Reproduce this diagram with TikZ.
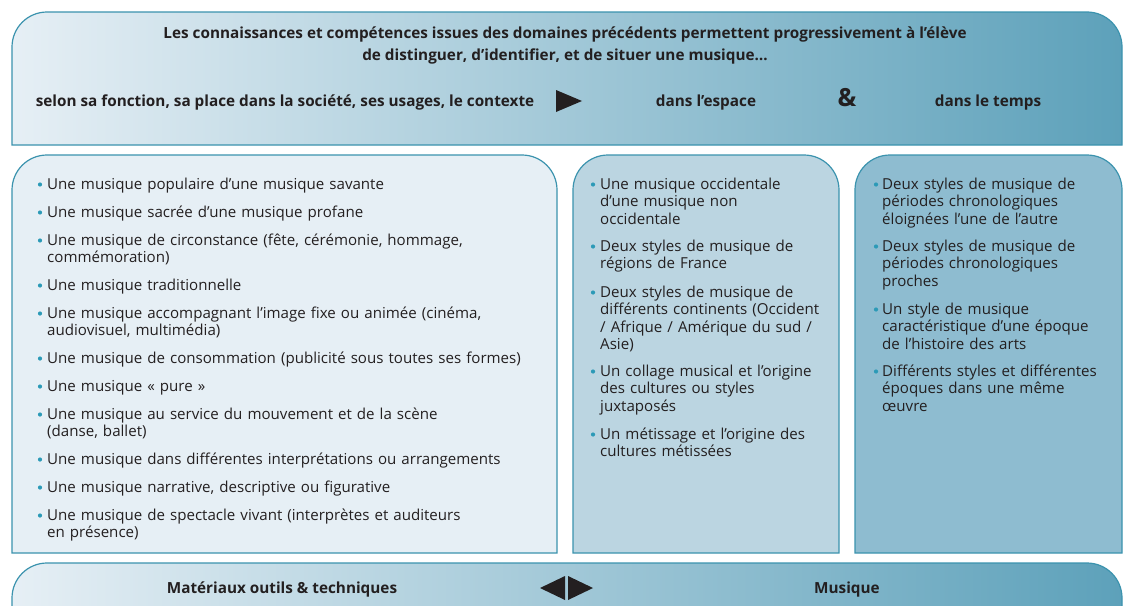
\documentclass[tikz,border=0pt]{standalone}
\usepackage{fontspec}
\setmainfont{Open Sans}
\definecolor{bordc}{HTML}{3B93AE}
\definecolor{leftfill}{HTML}{E6EFF5}
\definecolor{midfill}{HTML}{BBD5E1}
\definecolor{rightfill}{HTML}{8EBCD0}
\definecolor{bulc}{HTML}{2C9AB7}
\definecolor{txt}{HTML}{231F20}
\definecolor{gl}{HTML}{E6EFF5}
\definecolor{gm}{HTML}{AACBDA}
\definecolor{gr}{HTML}{5DA1BA}
\tikzset{
  boxline/.style={draw=bordc, line width=1.2pt},
  head/.style={text=txt, inner sep=0pt, anchor=base, font={\bfseries\fontsize{15.3}{17}\selectfont}},
  itemtext/.style={text=txt, inner sep=0pt, anchor=base west, align=left, font={\fontsize{15.1}{17.5}\selectfont}},
  lefttext/.style={itemtext, text width=505pt},
  coltext/.style={itemtext, text width=240pt},
  bul/.style={circle, fill=bulc, inner sep=0pt, minimum size=4.2pt},
  tri/.style={fill=txt, draw=none}
}
\begin{document}
\begin{tikzpicture}[x=1pt, y=-1pt]
\useasboundingbox (0,0) rectangle (1127,605);
\clip (0,0) rectangle (1127,605);
\fill[white] (0,0) rectangle (1127,605);
% top banner
\path[boxline, left color=gl, middle color=gm, right color=gr]
  (12,145) -- (12,47) arc[start angle=180, end angle=90, radius=35pt]
  -- (1087,12) arc[start angle=90, end angle=0, radius=35pt] -- (1122,145) -- cycle;
% columns
\path[boxline, fill=leftfill]
  (12,553) -- (12,190) arc[start angle=180, end angle=90, radius=35pt]
  -- (522,155) arc[start angle=90, end angle=0, radius=35pt] -- (557,553) -- cycle;
\path[boxline, fill=midfill]
  (573,553) -- (573,190) arc[start angle=180, end angle=90, radius=35pt]
  -- (804,155) arc[start angle=90, end angle=0, radius=35pt] -- (839,553) -- cycle;
\path[boxline, fill=rightfill]
  (855,553) -- (855,190) arc[start angle=180, end angle=90, radius=35pt]
  -- (1087,155) arc[start angle=90, end angle=0, radius=35pt] -- (1122,553) -- cycle;
% bottom bar
\path[boxline, left color=gl, middle color=gm, right color=gr]
  (12,620) -- (12,598) arc[start angle=180, end angle=90, radius=35pt]
  -- (1087,563) arc[start angle=90, end angle=0, radius=35pt] -- (1122,620) -- cycle;

% top texts
\node[head] (h1) at (565,38) {Les connaissances et compétences issues des domaines précédents permettent progressivement à l’élève};
\node[head] (h2) at (565,60) {de distinguer, d’identifier, et de situer une musique…};
\node[head] (h3) at (285,106) {selon sa fonction, sa place dans la société, ses usages, le contexte};
\node[head] (h4) at (706,106) {dans l’espace};
\node[head, font={\bfseries\fontsize{25}{27}\selectfont}] (amp) at (847,106) {\&};
\node[head] (h5) at (988,106) {dans le temps};
\fill[tri] (556,90) -- (582,101) -- (556,112) -- cycle;

% bottom texts
\node[head] (b1) at (282,593) {Matériaux outils \& techniques};
\node[head] (b2) at (847,593) {Musique};
\fill[tri] (565,576) -- (540,588) -- (565,600) -- cycle;
\fill[tri] (568,576) -- (593,588) -- (568,600) -- cycle;

% left column
\foreach \y/\t [count=\i] in {
  189/{Une musique populaire d’une musique savante},
  217/{Une musique sacrée d’une musique profane},
  245/{Une musique de circonstance (fête, cérémonie, hommage,\\commémoration)},
  290/{Une musique traditionnelle},
  318/{Une musique accompagnant l’image fixe ou animée (cinéma,\\audiovisuel, multimédia)},
  363/{Une musique de consommation (publicité sous toutes ses formes)},
  391/{Une musique « pure »},
  419/{Une musique au service du mouvement et de la scène\\(danse, ballet)},
  464/{Une musique dans différentes interprétations ou arrangements},
  492/{Une musique narrative, descriptive ou figurative},
  520/{Une musique de spectacle vivant (interprètes et auditeurs\\en présence)}}
{
  \node[bul] (lb\i) at (40,\y-4.5) {};
  \node[lefttext] (lt\i) at (47,\y) {\t};
}
% middle column
\foreach \y/\t [count=\i] in {
  189/{Une musique occidentale\\d’une musique non\\occidentale},
  251/{Deux styles de musique de\\régions de France},
  297/{Deux styles de musique de\\différents continents (Occident\\/ Afrique / Amérique du sud /\\Asie)},
  376/{Un collage musical et l’origine\\des cultures ou styles\\juxtaposés},
  439/{Un métissage et l’origine des\\cultures métissées}}
{
  \node[bul] (mb\i) at (593,\y-4.5) {};
  \node[coltext] (mt\i) at (600,\y) {\t};
}
% right column
\foreach \y/\t [count=\i] in {
  189/{Deux styles de musique de\\périodes chronologiques\\éloignées l’une de l’autre},
  251/{Deux styles de musique de\\périodes chronologiques\\proches},
  314/{Un style de musique\\caractéristique d’une époque\\de l’histoire des arts},
  376/{Différents styles et différentes\\époques dans une même\\œuvre}}
{
  \node[bul] (rb\i) at (876,\y-4.5) {};
  \node[coltext] (rt\i) at (882,\y) {\t};
}
\end{tikzpicture}
\end{document}
